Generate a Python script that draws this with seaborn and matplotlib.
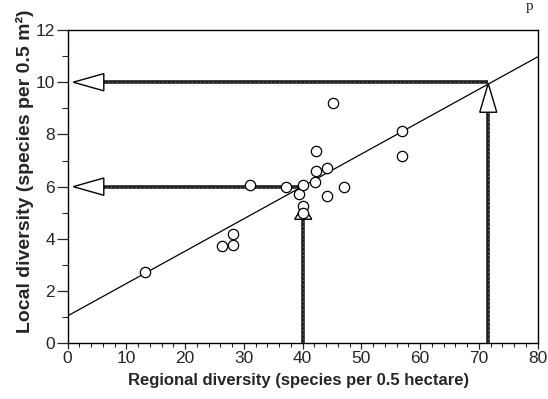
import matplotlib
matplotlib.use('Agg')
import matplotlib.pyplot as plt
from matplotlib.ticker import MultipleLocator
import pandas as pd
import seaborn as sns

# Site values
regional = [13.2, 26.2, 28.1, 28.2, 31.0, 37.2, 39.4, 40.1, 40.1, 40.1,
            42.1, 42.2, 42.2, 44.1, 44.1, 45.2, 47.1, 56.9, 57.0]
local = [2.73, 3.72, 4.17, 3.75, 6.07, 5.98, 5.71, 6.07, 5.26, 5.00,
         6.17, 6.61, 7.38, 6.70, 5.65, 9.20, 5.99, 8.15, 7.18]

# Fitted line
LINE_X = [0, 80]
INTERCEPT = 1.05
SLOPE = 0.124

# Lookup arrows: regional value -> local value
LOOKUP_X = [40.1, 71.6]
LOOKUP_Y = [6.0, 10.0]
HEAD_TIP_Y = [5.3, 9.95]     # where the upward arrow heads end
HEAD_LEN_Y = [0.55, 1.1]

df = pd.DataFrame({'regional': regional, 'local': local})
line_df = pd.DataFrame({'x': LINE_X, 'y': [INTERCEPT + SLOPE * v for v in LINE_X]})

sns.set_style('ticks')
plt.rcParams['font.family'] = ['Liberation Sans', 'DejaVu Sans']

fig = plt.figure(figsize=(5.48, 3.99), dpi=100)
ax = fig.add_axes([0.1235, 0.1396, 0.981 - 0.1235, 0.9248 - 0.1396])

sns.lineplot(data=line_df, x='x', y='y', color='black', linewidth=0.9, ax=ax, zorder=2)


def shaft(xs, ys):
    ax.plot(xs, ys, color='0.12', linewidth=2.6, solid_capstyle='butt', zorder=3)
    ax.plot(xs, ys, color='0.6', linewidth=0.6, dashes=(1, 4), zorder=3)


def head(xs, ys):
    ax.fill(xs, ys, facecolor='white', edgecolor='black', linewidth=1.0, zorder=3)


HEAD_TIP_X = 0.95
HEAD_LEN_X = 5.2
HEAD_HALF_Y = 0.33
HEAD_HALF_X = 1.45

for lx, ly, ytip, hl in zip(LOOKUP_X, LOOKUP_Y, HEAD_TIP_Y, HEAD_LEN_Y):
    # horizontal arrow pointing at the y axis
    base = HEAD_TIP_X + HEAD_LEN_X
    shaft([lx, base], [ly, ly])
    head([HEAD_TIP_X, base, base], [ly, ly + HEAD_HALF_Y, ly - HEAD_HALF_Y])
    # vertical arrow rising from the x axis
    shaft([lx, lx], [0, ytip - hl])
    head([lx, lx - HEAD_HALF_X, lx + HEAD_HALF_X], [ytip, ytip - hl, ytip - hl])

sns.scatterplot(data=df, x='regional', y='local', s=55, facecolor='white',
                edgecolor='black', linewidth=0.9, ax=ax, zorder=4)

ax.set_xlim(0, 80)
ax.set_ylim(0, 12)
ax.xaxis.set_major_locator(MultipleLocator(10))
ax.xaxis.set_minor_locator(MultipleLocator(2))
ax.yaxis.set_major_locator(MultipleLocator(2))
ax.yaxis.set_minor_locator(MultipleLocator(1))
ax.tick_params(axis='x', which='major', length=4.5, width=0.9, pad=1, labelsize=12.5)
ax.tick_params(axis='x', which='minor', length=2.6, width=0.8)
ax.tick_params(axis='y', which='major', length=8, width=0.9, pad=1, labelsize=12.5)
ax.tick_params(axis='y', which='minor', length=4.3, width=0.8)
for s in ax.spines.values():
    s.set_linewidth(1.0)
    s.set_color('black')

ax.set_xlabel('Regional diversity (species per 0.5 hectare)', fontsize=12,
              fontweight='bold', labelpad=5)
ax.set_ylabel('Local diversity (species per 0.5 m²)', fontsize=14,
              fontweight='bold', labelpad=1)
ax.xaxis.label.set_x(0.492)
ax.yaxis.label.set_y(0.55)

# clipped letter from the page above the figure
fig.text(0.9655, 1.0, 'p', family='Liberation Serif', fontsize=11, ha='center', va='top')

fig.savefig('out.png', dpi=100)
